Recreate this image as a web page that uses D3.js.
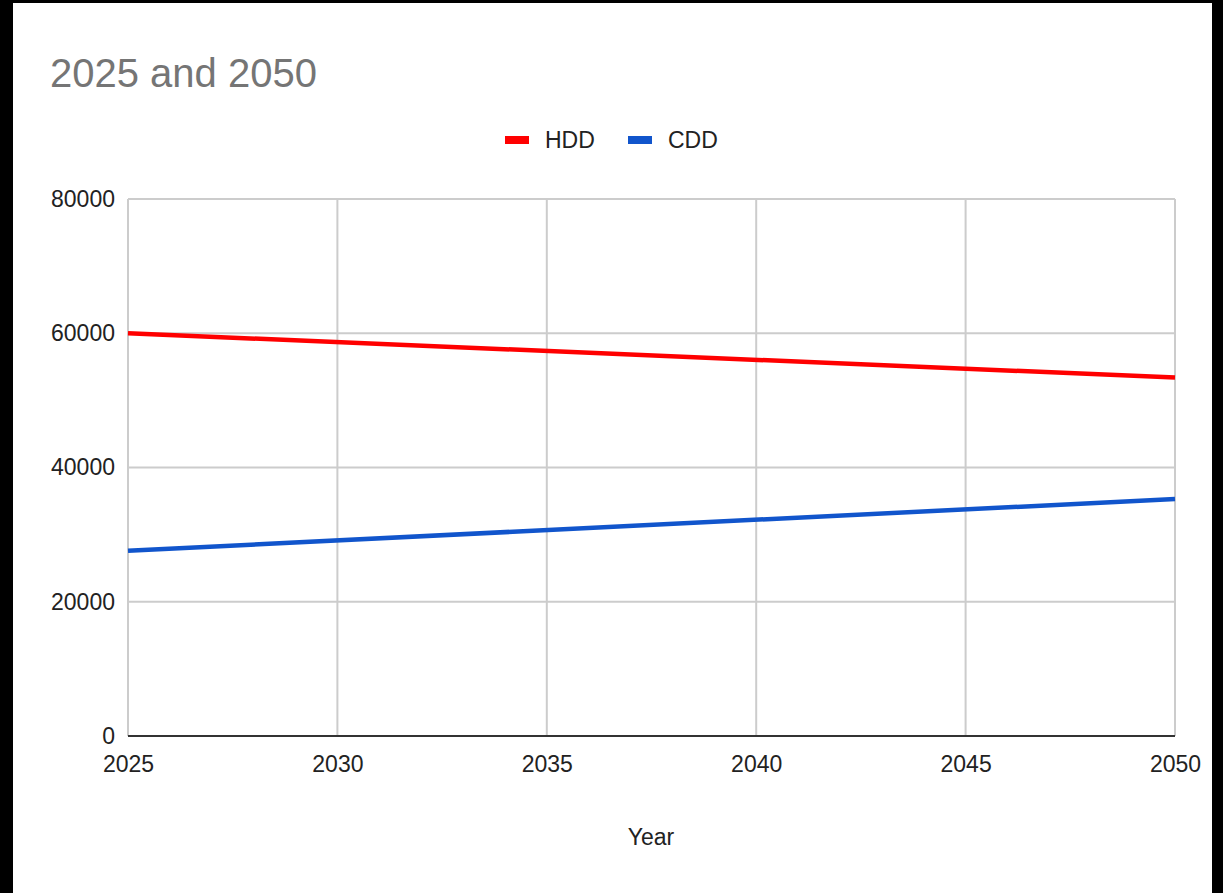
<!DOCTYPE html>
<html>
<head>
<meta charset="utf-8">
<script src="https://cdnjs.cloudflare.com/ajax/libs/d3/7.8.5/d3.min.js"></script>
<style>
  html, body { margin: 0; padding: 0; background: #000; }
  svg { display: block; }
  text { font-family: "Liberation Sans", Arial, sans-serif; }
</style>
</head>
<body>
<svg id="chart" width="1223" height="893"></svg>
<script>
// Heating and cooling degree days, projected endpoints
const years = [2025, 2050];
const hdd = [60000, 53400];
const cdd = [27600, 35300];
const xTicks = [2025, 2030, 2035, 2040, 2045, 2050];
const yTicks = [0, 20000, 40000, 60000, 80000];
const seriesNames = ["HDD", "CDD"];
const seriesColors = ["#ff0000", "#1155cc"];

const W = 1223, H = 893;
const margin = { left: 128, right: W - 1175, top: 199, bottom: H - 736 };

const svg = d3.select("#chart");

// White card on a black frame
svg.append("rect").attr("x", 13).attr("y", 3).attr("width", 1199).attr("height", H - 3).attr("fill", "#fff");

const x = d3.scaleLinear().domain([2025, 2050]).range([margin.left, W - margin.right]);
const y = d3.scaleLinear().domain([0, 80000]).range([H - margin.bottom, margin.top]);

// Title
svg.append("text")
  .attr("x", 50).attr("y", 87)
  .attr("font-size", 40).attr("fill", "#757575")
  .text("2025 and 2050");

// Vertical gridlines
svg.append("g")
  .selectAll("line").data(xTicks).join("line")
  .attr("x1", d => x(d)).attr("x2", d => x(d))
  .attr("y1", y(80000)).attr("y2", y(0))
  .attr("stroke", "#cccccc").attr("stroke-width", 2);

// Horizontal gridlines
svg.append("g")
  .selectAll("line").data(yTicks.filter(d => d > 0)).join("line")
  .attr("x1", x(2025)).attr("x2", x(2050))
  .attr("y1", d => y(d)).attr("y2", d => y(d))
  .attr("stroke", "#cccccc").attr("stroke-width", 2);

// Y axis labels
const yAxis = d3.axisLeft(y).tickValues(yTicks).tickSize(0).tickPadding(13).tickFormat(d3.format("d"));
const gy = svg.append("g").attr("transform", `translate(${margin.left},0)`).call(yAxis);
gy.select(".domain").remove();
gy.selectAll("text").attr("font-size", 23).attr("fill", "#222").attr("font-family", "Liberation Sans, Arial, sans-serif");

// X axis labels
const xAxis = d3.axisBottom(x).tickValues(xTicks).tickSize(0).tickPadding(20).tickFormat(d3.format("d"));
const gx = svg.append("g").attr("transform", `translate(0,${y(0)})`).call(xAxis);
gx.select(".domain").remove();
gx.selectAll("text").attr("font-size", 23).attr("fill", "#222").attr("font-family", "Liberation Sans, Arial, sans-serif");

// Baseline
svg.append("line")
  .attr("x1", x(2025)).attr("x2", x(2050))
  .attr("y1", y(0)).attr("y2", y(0))
  .attr("stroke", "#333").attr("stroke-width", 2);

// Series lines
const series = [hdd, cdd];
const line = d3.line().x((d, i) => x(years[i])).y(d => y(d));
series.forEach((vals, k) => {
  svg.append("path")
    .datum(vals)
    .attr("d", line)
    .attr("fill", "none")
    .attr("stroke", seriesColors[k])
    .attr("stroke-width", 4.5)
    .attr("stroke-linecap", "butt");
});

// Legend
const legendX = [505, 628];
seriesNames.forEach((name, k) => {
  const g = svg.append("g").attr("transform", `translate(${legendX[k]},140)`);
  g.append("rect").attr("x", 0).attr("y", -4).attr("width", 24).attr("height", 8).attr("fill", seriesColors[k]);
  g.append("text").attr("x", 40).attr("y", 8).attr("font-size", 23).attr("fill", "#222").text(name);
});

// X axis title
svg.append("text")
  .attr("x", 651).attr("y", 845)
  .attr("text-anchor", "middle")
  .attr("font-size", 23).attr("fill", "#222")
  .text("Year");
</script>
</body>
</html>
